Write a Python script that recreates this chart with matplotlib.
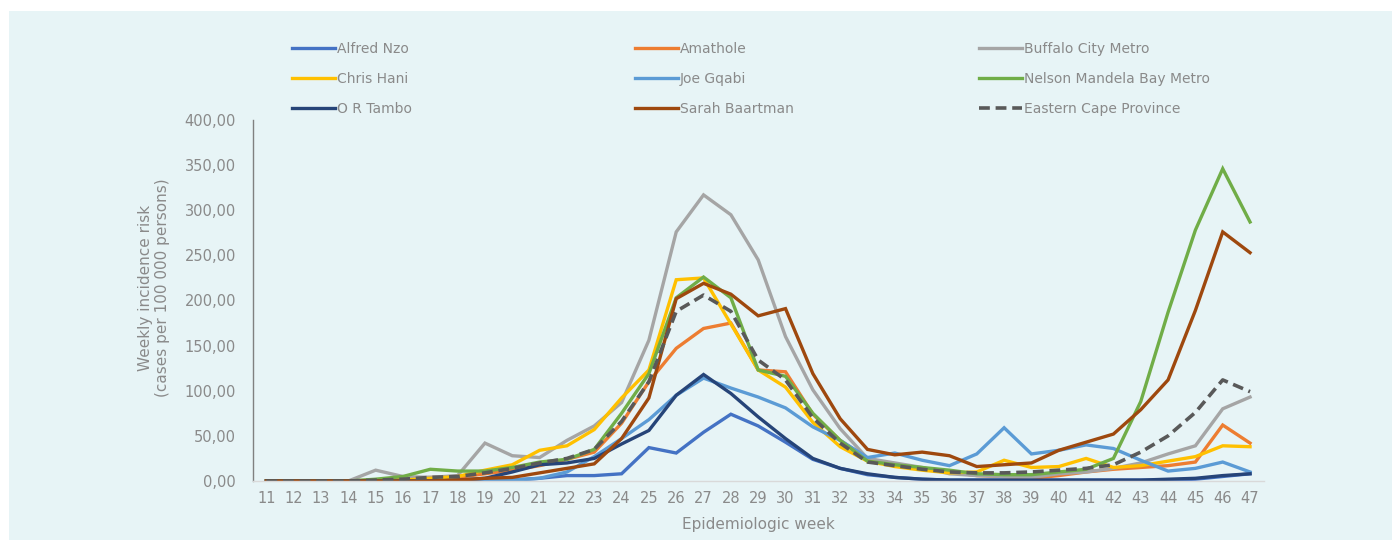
import matplotlib
matplotlib.use("Agg")
import matplotlib.pyplot as plt
from matplotlib.patches import Rectangle
from matplotlib.ticker import FuncFormatter

weeks = list(range(11, 48))

alfred_nzo = [0, 0, 0, 0, 0, 0, 0, 0, 0, 1, 3, 6, 6, 8, 37, 31, 54, 74, 61, 43, 24, 14, 7, 4, 2, 1, 1, 1, 1, 1, 1, 1, 1, 1, 2, 5, 8]
amathole = [0, 0, 0, 0, 1, 2, 4, 4, 8, 12, 17, 24, 32, 64, 110, 147, 169, 175, 123, 121, 74, 45, 25, 18, 14, 10, 6, 5, 3, 6, 10, 13, 15, 17, 21, 62, 42]
buffalo_city = [0, 0, 0, 0, 12, 5, 4, 6, 42, 28, 26, 45, 61, 87, 156, 276, 317, 295, 245, 160, 101, 58, 25, 20, 15, 8, 6, 5, 4, 8, 10, 14, 20, 30, 39, 80, 93]
chris_hani = [0, 0, 0, 0, 0, 1, 3, 5, 12, 18, 34, 39, 57, 92, 123, 223, 225, 174, 123, 104, 65, 38, 22, 16, 12, 9, 10, 23, 15, 16, 25, 15, 17, 22, 27, 39, 38]
joe_gqabi = [0, 0, 0, 0, 0, 0, 0, 0, 1, 1, 3, 10, 27, 47, 68, 95, 114, 103, 93, 81, 60, 45, 26, 31, 23, 17, 30, 59, 30, 34, 40, 36, 23, 11, 14, 21, 10]
nelson_mandela = [0, 0, 0, 0, 2, 5, 13, 11, 11, 15, 21, 24, 35, 75, 119, 203, 226, 203, 123, 116, 75, 45, 22, 18, 15, 12, 8, 7, 7, 10, 13, 25, 88, 187, 278, 346, 287]
or_tambo = [0, 0, 0, 0, 0, 0, 0, 1, 3, 10, 18, 20, 25, 41, 56, 95, 118, 97, 71, 47, 25, 14, 8, 4, 2, 1, 1, 1, 1, 1, 1, 1, 1, 2, 3, 6, 8]
sarah_baartman = [0, 0, 0, 0, 0, 0, 0, 1, 3, 4, 9, 14, 19, 47, 92, 202, 219, 207, 183, 191, 119, 69, 35, 29, 32, 28, 16, 18, 20, 34, 43, 52, 79, 112, 189, 276, 253]
eastern_cape = [0, 0, 0, 0, 1, 2, 4, 5, 9, 14, 20, 25, 35, 66, 110, 188, 206, 188, 134, 112, 70, 42, 21, 17, 13, 10, 9, 9, 10, 12, 14, 18, 32, 50, 76, 112, 99]

series = [
    ("Alfred Nzo", alfred_nzo, "#4472C4", "-"),
    ("Amathole", amathole, "#ED7D31", "-"),
    ("Buffalo City Metro", buffalo_city, "#A5A5A5", "-"),
    ("Chris Hani", chris_hani, "#FFC000", "-"),
    ("Joe Gqabi", joe_gqabi, "#5B9BD5", "-"),
    ("Nelson Mandela Bay Metro", nelson_mandela, "#70AD47", "-"),
    ("O R Tambo", or_tambo, "#264478", "-"),
    ("Sarah Baartman", sarah_baartman, "#9E480E", "-"),
    ("Eastern Cape Province", eastern_cape, "#595959", "--"),
]

BG = "#E7F4F6"
TXT = "#8A8A8A"
plt.rcParams['font.family'] = ['DejaVu Sans']

fig = plt.figure(figsize=(13.92, 5.40), dpi=100)
fig.patch.set_facecolor("white")
fig.patches.append(Rectangle((9 / 1392, 0), 1 - 9 / 1392, 1 - 11 / 540,
                             transform=fig.transFigure, facecolor=BG,
                             edgecolor="none", zorder=-10))

ax = fig.add_axes([252.7 / 1392, 59 / 540, (1263.7 - 252.7) / 1392, (481 - 120) / 540])
ax.set_facecolor("none")

handles = {}
for name, vals, color, ls in series:
    if ls == "--":
        ln, = ax.plot(weeks, vals, color=color, lw=2.6, linestyle=(0, (3.0, 1.6)),
                      label=name, dash_capstyle="butt")
    else:
        ln, = ax.plot(weeks, vals, color=color, lw=2.4, label=name,
                      solid_joinstyle="miter")
    handles[name] = ln

ax.set_xlim(10.5, 47.5)
ax.set_ylim(0, 400)
ax.set_xticks(weeks)
ax.set_xticklabels([str(w) for w in weeks])
ax.set_yticks(range(0, 401, 50))
ax.yaxis.set_major_formatter(FuncFormatter(lambda v, p: f"{v:.2f}".replace(".", ",")))
ax.tick_params(axis="both", length=0, colors=TXT, labelsize=10.5)
ax.tick_params(axis="x", pad=7)
ax.tick_params(axis="y", pad=12)

for s in ["top", "right"]:
    ax.spines[s].set_visible(False)
ax.spines["left"].set_color("#808080")
ax.spines["left"].set_linewidth(1.0)
ax.spines["bottom"].set_color("#D9D9D9")
ax.spines["bottom"].set_linewidth(1.0)

ax.set_ylabel("Weekly incidence risk\n(cases per 100 000 persons)", color=TXT,
              fontsize=11)
ax.yaxis.set_label_coords(-(252.7 - 170) / (1263.7 - 252.7), 0.535)
ax.set_xlabel("Epidemiologic week", color=TXT, fontsize=11, labelpad=8)

cols = [["Alfred Nzo", "Chris Hani", "O R Tambo"],
        ["Amathole", "Joe Gqabi", "Sarah Baartman"],
        ["Buffalo City Metro", "Nelson Mandela Bay Metro", "Eastern Cape Province"]]
xs = [292, 635, 979]
for names, x0 in zip(cols, xs):
    leg = fig.legend([handles[n] for n in names], names,
                     loc="upper left", bbox_to_anchor=(x0 / 1392, 1 - 42 / 540),
                     frameon=False, fontsize=10, labelcolor=TXT,
                     handlelength=3.1, handletextpad=0.15, labelspacing=1.15,
                     borderpad=0, borderaxespad=0)

fig.savefig("out.png", dpi=100, facecolor=fig.get_facecolor())
